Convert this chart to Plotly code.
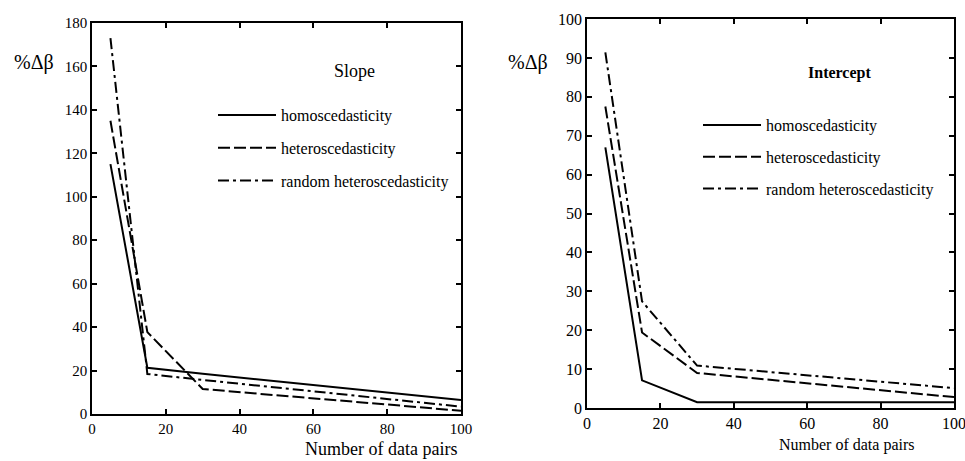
import plotly.graph_objects as go

# ---- data ----
n_pairs = [5, 15, 30, 100]

slope_homo = [115, 21.3, 18.5, 6.4]
slope_hetero = [135, 37.7, 11.5, 1.5]
slope_random = [173, 18.4, 15.7, 3.4]

int_homo = [67, 7.1, 1.5, 1.5]
int_hetero = [77.5, 19.4, 9.0, 2.8]
int_random = [91.4, 27.4, 10.9, 5.1]

series_names = ["homoscedasticity", "heteroscedasticity", "random heteroscedasticity"]
x_ticks = [0, 20, 40, 60, 80, 100]
slope_y_ticks = list(range(0, 181, 20))
int_y_ticks = list(range(0, 101, 10))

W, H = 965, 461
FONT = "Liberation Serif"
dashes = ["solid", "12px,4px", "11px,4px,3px,4px"]

fig = go.Figure()

for i, (name, ys) in enumerate(zip(series_names, [slope_homo, slope_hetero, slope_random])):
    fig.add_trace(go.Scatter(
        x=n_pairs, y=ys, mode="lines", name=name,
        line=dict(color="black", width=2, dash=dashes[i]),
        xaxis="x", yaxis="y", legend="legend", legendgroup="s%d" % i,
    ))

for i, (name, ys) in enumerate(zip(series_names, [int_homo, int_hetero, int_random])):
    fig.add_trace(go.Scatter(
        x=n_pairs, y=ys, mode="lines", name=name,
        line=dict(color="black", width=2, dash=dashes[i]),
        xaxis="x2", yaxis="y2", legend="legend2", legendgroup="i%d" % i,
    ))

def px_x(p):
    return p / W

def px_y(p):
    return 1 - p / H

axis_common = dict(
    showline=True, linecolor="black", linewidth=1.5, mirror="ticks",
    ticks="inside", ticklen=5, tickwidth=1.5, tickcolor="black",
    showgrid=False, zeroline=False, automargin=False, ticklabeloverflow="allow",
)

fig.update_layout(
    width=W, height=H,
    margin=dict(l=0, r=0, t=0, b=0, autoexpand=False),
    paper_bgcolor="white", plot_bgcolor="white",
    font=dict(family=FONT, color="black", size=15),
    xaxis=dict(domain=[px_x(92), px_x(461)], range=[0, 100], tickvals=x_ticks,
               anchor="y", tickfont=dict(size=15), **axis_common),
    yaxis=dict(domain=[px_y(414), px_y(23)], range=[0, 180], tickvals=slope_y_ticks,
               anchor="x", tickfont=dict(size=15), **axis_common),
    xaxis2=dict(domain=[px_x(587), px_x(954)], range=[0, 100], tickvals=x_ticks,
                anchor="y2", tickfont=dict(size=16), **axis_common),
    yaxis2=dict(domain=[px_y(408), px_y(19)], range=[0, 100], tickvals=int_y_ticks,
                anchor="x2", tickfont=dict(size=16), **axis_common),
    legend=dict(x=px_x(213), y=px_y(98), xanchor="left", yanchor="top",
                bgcolor="rgba(0,0,0,0)", font=dict(size=16, family=FONT),
                tracegroupgap=9, itemwidth=58, traceorder="grouped"),
    legend2=dict(x=px_x(698), y=px_y(108), xanchor="left", yanchor="top",
                 bgcolor="rgba(0,0,0,0)", font=dict(size=16, family=FONT),
                 tracegroupgap=8, itemwidth=58, traceorder="grouped"),
    showlegend=True,
    annotations=[
        dict(text="%\u0394\u03b2", x=px_x(12), y=px_y(62), xref="paper", yref="paper",
             xanchor="left", yanchor="middle", showarrow=False, font=dict(size=20)),
        dict(text="%\u0394\u03b2", x=px_x(506), y=px_y(62), xref="paper", yref="paper",
             xanchor="left", yanchor="middle", showarrow=False, font=dict(size=20)),
        dict(text="Slope", x=px_x(354), y=px_y(71), xref="paper", yref="paper",
             xanchor="center", yanchor="middle", showarrow=False, font=dict(size=18)),
        dict(text="<b>Intercept</b>", x=px_x(839), y=px_y(73), xref="paper", yref="paper",
             xanchor="center", yanchor="middle", showarrow=False, font=dict(size=16)),
        dict(text="Number of data pairs", x=px_x(459), y=px_y(449), xref="paper", yref="paper",
             xanchor="right", yanchor="middle", showarrow=False, font=dict(size=18)),
        dict(text="Number of data pairs", x=px_x(917), y=px_y(445), xref="paper", yref="paper",
             xanchor="right", yanchor="middle", showarrow=False, font=dict(size=16)),
    ],
)

fig.write_html(
    "out.html",
    config={"displayModeBar": False},
    post_script="document.body.style.margin='0';document.body.style.overflow='hidden';",
)
